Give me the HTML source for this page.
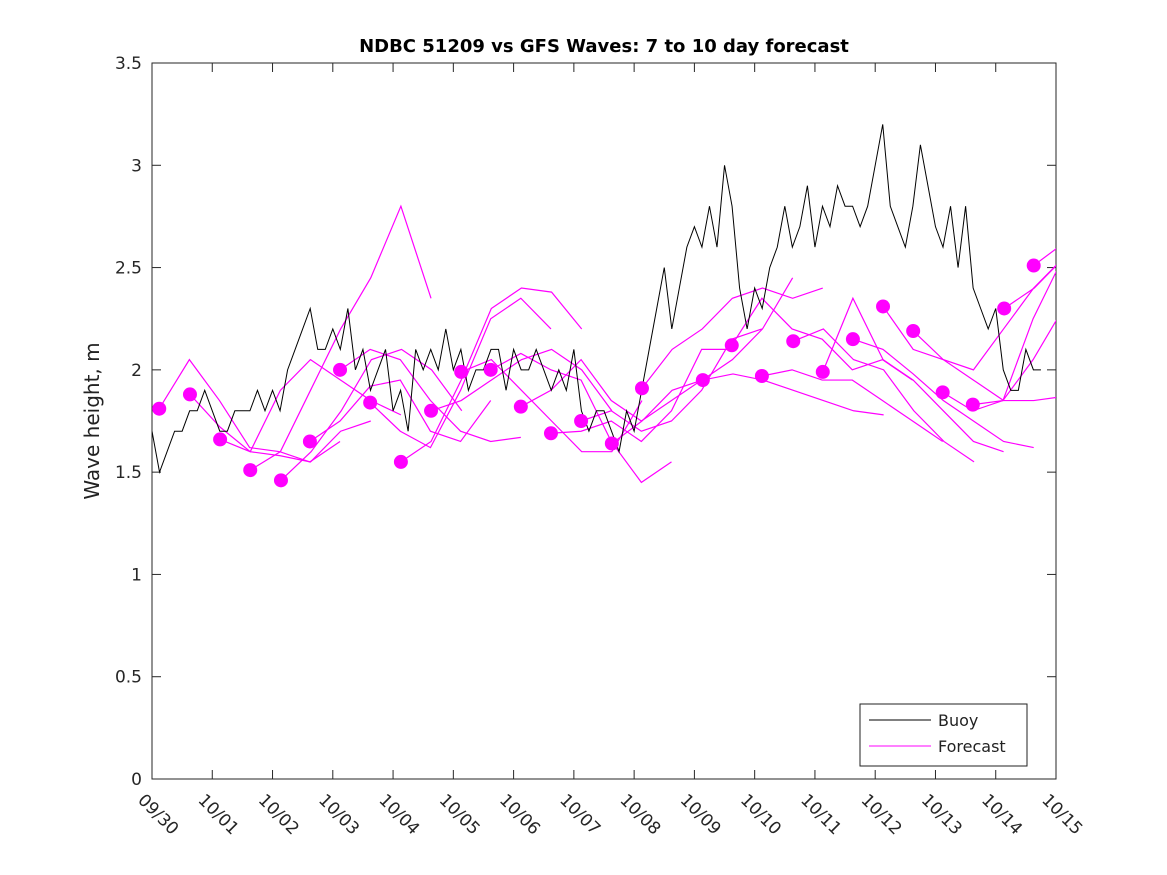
<!DOCTYPE html>
<html><head><meta charset="utf-8"><style>body{margin:0;background:#fff}svg{display:block;font-family:"DejaVu Sans","Liberation Sans",sans-serif}</style></head>
<body>
<svg id="chart" width="1167" height="875">
<defs><clipPath id="clip"><rect x="152" y="63" width="904" height="716"/></clipPath></defs>
<rect width="1167" height="875" fill="#fff"/>
<text x="604" y="52" text-anchor="middle" font-size="18" font-weight="bold">NDBC 51209 vs GFS Waves: 7 to 10 day forecast</text>
<text transform="translate(99,421) rotate(-90)" text-anchor="middle" font-size="20" fill="#222">Wave height, m</text>
<g id="axes"></g>
<g id="series" clip-path="url(#clip)"></g>
<g>
<rect x="860" y="704" width="167" height="62" fill="#fff" stroke="#222" stroke-width="1"/>
<line x1="869" y1="720" x2="931" y2="720" stroke="#000"/>
<text x="938" y="726" font-size="16" fill="#222">Buoy</text>
<line x1="869" y1="746" x2="931" y2="746" stroke="#f0f"/>
<text x="938" y="752" font-size="16" fill="#222">Forecast</text>
</g>
</svg>
<script>
const xTickLabels=["09/30","10/01","10/02","10/03","10/04","10/05","10/06","10/07","10/08","10/09","10/10","10/11","10/12","10/13","10/14","10/15"];
const yTicks=[0,0.5,1,1.5,2,2.5,3,3.5];
const yTickLabels=["0","0.5","1","1.5","2","2.5","3","3.5"];
const buoyValues=[1.7,1.5,1.6,1.7,1.7,1.8,1.8,1.9, 1.8,1.7,1.7,1.8,1.8,1.8,1.9,1.8, 1.9,1.8,2.0,2.1,2.2,2.3,2.1,2.1, 2.2,2.1,2.3,2.0,2.1,1.9,2.0,2.1, 1.8,1.9,1.7,2.1,2.0,2.1,2.0,2.2, 2.0,2.1,1.9,2.0,2.0,2.1,2.1,1.9, 2.1,2.0,2.0,2.1,2.0,1.9,2.0,1.9, 2.1,1.8,1.7,1.8,1.8,1.7,1.6,1.8, 1.7,1.9,2.1,2.3,2.5,2.2,2.4,2.6, 2.7,2.6,2.8,2.6,3.0,2.8,2.4,2.2, 2.4,2.3,2.5,2.6,2.8,2.6,2.7,2.9, 2.6,2.8,2.7,2.9,2.8,2.8,2.7,2.8, 3.0,3.2,2.8,2.7,2.6,2.8,3.1,2.9, 2.7,2.6,2.8,2.5,2.8,2.4,2.3,2.2, 2.3,2.0,1.9,1.9,2.1,2.0,2.0];
const forecastStarts=[0.12,0.63,1.13,1.63,2.14,2.62,3.12,3.62,4.13,4.63,5.13,5.62,6.12,6.62,7.12,7.63,8.13,9.14,9.62,10.12,10.64,11.13,11.63,12.13,12.63,13.12,13.62,14.14,14.63];
const forecastValues=[
[1.81,2.05,1.85,1.62,1.60,1.55,1.65],
[1.88,1.72,1.60,1.58,1.55,1.70,1.75],
[1.66,1.60,1.90,2.05,1.95,1.85,1.78],
[1.51,1.60,1.90,2.20,2.45,2.80,2.35],
[1.46,1.60,1.80,2.05,2.10,2.00,1.80],
[1.65,1.75,1.92,1.95,1.70,1.65,1.85],
[2.00,2.10,2.05,1.85,1.70,1.65,1.67],
[1.84,1.70,1.62,1.90,2.25,2.35,2.20],
[1.55,1.65,1.95,2.30,2.40,2.38,2.20],
[1.80,1.85,1.95,2.05,2.10,2.00,1.80],
[1.99,2.05,1.90,1.75,1.60,1.60,1.85],
[2.00,2.08,2.00,1.95,1.65,1.45,1.55],
[1.82,1.90,2.05,1.85,1.75,1.85,1.95],
[1.69,1.70,1.75,1.65,1.80,2.10,2.10],
[1.75,1.80,1.70,1.75,1.90,2.15,2.20],
[1.64,1.75,1.90,1.95,2.05,2.20,2.45],
[1.91,2.10,2.20,2.35,2.40,2.35,2.40],
[1.95,1.98,1.95,1.90,1.85,1.80,1.78],
[2.12,2.35,2.20,2.15,2.00,2.05,1.95],
[1.97,2.00,1.95,1.95,1.85,1.75,1.65],
[2.14,2.20,2.05,2.00,1.80,1.65,1.55],
[1.99,2.35,2.05,1.95,1.80,1.65,1.60],
[2.15,2.10,1.98,1.85,1.75,1.65,1.62],
[2.31,2.10,2.05,1.95,1.85,1.85,1.87],
[2.19,2.05,2.00,2.20,2.40,2.55,2.40],
[1.89,1.80,1.85,2.05,2.30,2.40,2.45],
[1.83,1.85,2.25,2.55,2.62,2.60,2.60],
[2.30,2.40,2.55,2.60],
[2.51,2.62,2.58]];
const X0=152,X1=1056,Y0=779,Y1=63;
const xs=d=>X0+d*(X1-X0)/15;
const ys=v=>Y0-v*(Y0-Y1)/3.5;
const NS="http://www.w3.org/2000/svg";
function mk(t,a,p){const e=document.createElementNS(NS,t);for(const k in a)e.setAttribute(k,a[k]);p.appendChild(e);return e;}
const axes=document.getElementById('axes'),ser=document.getElementById('series');
const frame=mk('rect',{x:X0,y:Y1,width:X1-X0,height:Y0-Y1,fill:'none',stroke:'#262626','stroke-width':1},axes);


xTickLabels.forEach((l,i)=>{const x=xs(i);
 const t1=mk('line',{x1:x,y1:Y0,x2:x,y2:Y0-9,stroke:'#262626'},axes);
 
 
 mk('line',{x1:x,y1:Y1,x2:x,y2:Y1+9,stroke:'#262626'},axes);
 const t=mk('text',{transform:`translate(${x-15},${Y0+22}) rotate(45)`,'font-size':17,fill:'#262626'},axes);
 t.textContent=l;
 
 
});
yTicks.forEach((v,i)=>{const y=ys(v);
 const t1=mk('line',{x1:X0,y1:y,x2:X0+9,y2:y,stroke:'#262626'},axes);
 
 
 mk('line',{x1:X1,y1:y,x2:X1-9,y2:y,stroke:'#262626'},axes);
 const t=mk('text',{x:X0-10,y:y+6,'text-anchor':'end','font-size':17,fill:'#262626'},axes);
 t.textContent=yTickLabels[i];
 
 
});
forecastValues.forEach((vals,i)=>{
 const pts=vals.map((v,j)=>xs(forecastStarts[i]+j*0.5)+','+ys(v)).join(' ');
 const p=mk('polyline',{points:pts,fill:'none',stroke:'#f0f','stroke-width':1.2},ser);
 
 
});
const bp=buoyValues.map((v,i)=>xs(i*0.125)+','+ys(v));
const b=mk('polyline',{points:bp.join(' '),fill:'none',stroke:'#000','stroke-width':1},ser);


forecastValues.forEach((vals,i)=>{
 const c=mk('circle',{cx:xs(forecastStarts[i]),cy:ys(vals[0]),r:7,fill:'#f0f'},ser);
 
 
});
</script>
</body></html>
